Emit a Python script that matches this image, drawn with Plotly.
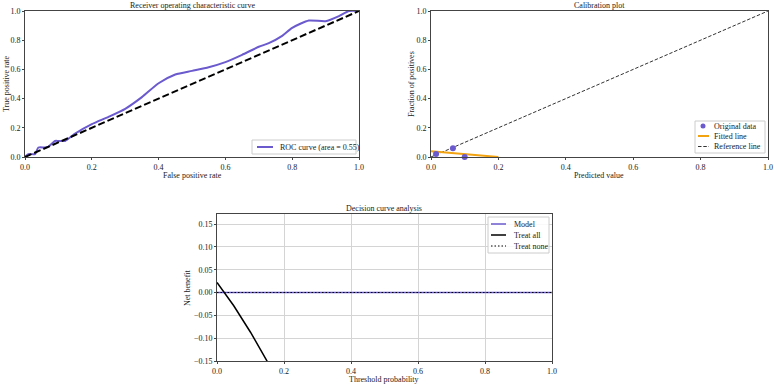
import plotly.graph_objects as go

# ROC data
roc_fpr = [0.0, 0.01, 0.03, 0.04, 0.06, 0.07, 0.09, 0.10, 0.12, 0.15, 0.20, 0.25, 0.30, 0.35, 0.40, 0.45, 0.50, 0.55, 0.60, 0.65, 0.70, 0.73, 0.77, 0.80, 0.85, 0.90, 0.94, 0.97, 1.0]
roc_tpr = [0.0, 0.02, 0.02, 0.065, 0.065, 0.07, 0.11, 0.11, 0.11, 0.16, 0.225, 0.275, 0.33, 0.41, 0.505, 0.565, 0.59, 0.615, 0.65, 0.70, 0.755, 0.78, 0.83, 0.885, 0.935, 0.93, 0.965, 1.0, 1.0]
roc_label = "ROC curve (area = 0.55)"

# Calibration data
cal_pred = [0.015, 0.065, 0.10]
cal_frac = [0.02, 0.06, 0.0]
fit_x = [0.0, 0.2]
fit_y = [0.04, 0.0]
cal_labels = ["Original data", "Fitted line", "Reference line"]

# Decision curve data
thresholds = [0.0, 0.05, 0.10, 0.15]
treat_all = [0.022, -0.029, -0.087, -0.151]
model_x = [0.0, 1.0]
model_nb = [0.0, 0.0]
none_nb = [0.0, 0.0]
dca_labels = ["Model", "Treat all", "Treat none"]

tick01 = [0, 0.2, 0.4, 0.6, 0.8, 1.0]
dca_ticks = [-0.15, -0.10, -0.05, 0.0, 0.05, 0.10, 0.15]
dca_ticktext = ["\u22120.15", "\u22120.10", "\u22120.05", "0.00", "0.05", "0.10", "0.15"]

PURPLE = "#6A5ACD"
ORANGE = "#F2A30F"
FONT = "Liberation Serif"
W, H = 774, 384
DASH_THICK = "7px,3px"
DASH_THIN = "3.5px,1.8px"
DOTTED = "1.5px,2px"


def px(x):
    return x / W


def py(y):
    return 1 - y / H


fig = go.Figure()

# ROC
fig.add_trace(go.Scatter(x=roc_fpr, y=roc_tpr, mode="lines",
                         line=dict(color=PURPLE, width=2, shape="spline", smoothing=0.6),
                         name=roc_label, xaxis="x", yaxis="y"))
fig.add_trace(go.Scatter(x=[0, 1], y=[0, 1], mode="lines", line=dict(color="black", width=2, dash=DASH_THICK),
                         xaxis="x", yaxis="y"))

# Calibration
fig.add_trace(go.Scatter(x=[0, 1], y=[0, 1], mode="lines", line=dict(color="#333333", width=1, dash=DASH_THIN),
                         name=cal_labels[2], xaxis="x2", yaxis="y2"))
fig.add_trace(go.Scatter(x=fit_x, y=fit_y, mode="lines", line=dict(color=ORANGE, width=2),
                         name=cal_labels[1], xaxis="x2", yaxis="y2"))
fig.add_trace(go.Scatter(x=cal_pred, y=cal_frac, mode="markers", marker=dict(color=PURPLE, size=6),
                         name=cal_labels[0], xaxis="x2", yaxis="y2", cliponaxis=False))

# DCA
fig.add_trace(go.Scatter(x=model_x, y=model_nb, mode="lines", line=dict(color=PURPLE, width=1.5),
                         name=dca_labels[0], xaxis="x3", yaxis="y3"))
fig.add_trace(go.Scatter(x=thresholds, y=treat_all, mode="lines", line=dict(color="black", width=1.5),
                         name=dca_labels[1], xaxis="x3", yaxis="y3"))
fig.add_trace(go.Scatter(x=model_x, y=none_nb, mode="lines", line=dict(color="black", width=1.2, dash=DOTTED),
                         name=dca_labels[2], xaxis="x3", yaxis="y3"))

tickfont = dict(family=FONT, size=8, color="#222")
axis_common = dict(showline=True, linecolor="#444", linewidth=1, mirror=True, ticks="outside", ticklen=2,
                   tickcolor="#444", tickfont=tickfont, zeroline=False, showgrid=False,
                   tickformat=".1f", automargin=False, fixedrange=True)

fig.update_layout(
    width=W, height=H, margin=dict(l=0, r=0, t=0, b=0, autoexpand=False),
    paper_bgcolor="white", plot_bgcolor="white",
    font=dict(family=FONT, size=8, color="#222"),
    showlegend=False,
    xaxis=dict(axis_common, domain=[px(25), px(359)], range=[0, 1], tickvals=tick01, anchor="y"),
    yaxis=dict(axis_common, domain=[py(157), py(11)], range=[0, 1], tickvals=tick01, anchor="x"),
    xaxis2=dict(axis_common, domain=[px(431), px(768)], range=[0, 1], tickvals=tick01, anchor="y2"),
    yaxis2=dict(axis_common, domain=[py(157), py(11)], range=[0, 1], tickvals=tick01, anchor="x2"),
    xaxis3=dict(axis_common, domain=[px(217), px(552)], range=[0, 1], tickvals=tick01, anchor="y3",
                showgrid=True, gridcolor="#d4d4d4", gridwidth=1),
    yaxis3=dict(axis_common, domain=[py(361), py(214)], range=[-0.15, 0.172],
                tickvals=dca_ticks, ticktext=dca_ticktext,
                anchor="x3", showgrid=True, gridcolor="#d4d4d4", gridwidth=1),
)

ann = []
shapes = []


def text(x, y, s, angle=0, size=8, anchor="center"):
    ann.append(dict(x=px(x), y=py(y), xref="paper", yref="paper", text=s, showarrow=False,
                    textangle=angle, font=dict(family=FONT, size=size, color="#222"),
                    xanchor=anchor, yanchor="middle"))


def box(x0, y0, x1, y1):
    shapes.append(dict(type="rect", xref="paper", yref="paper", x0=px(x0), x1=px(x1), y0=py(y1), y1=py(y0),
                       line=dict(color="#cccccc", width=1), fillcolor="rgba(255,255,255,0.85)", layer="above"))


def gline(x0, x1, y, color, width, dash="solid"):
    shapes.append(dict(type="line", xref="paper", yref="paper", x0=px(x0), x1=px(x1), y0=py(y), y1=py(y),
                       line=dict(color=color, width=width, dash=dash), layer="above"))


def gdot(x, y, color):
    r = 2.5
    shapes.append(dict(type="circle", xref="paper", yref="paper", x0=px(x - r), x1=px(x + r),
                       y0=py(y + r), y1=py(y - r), line=dict(color=color, width=0), fillcolor=color,
                       layer="above"))


# titles and axis labels
text(192, 5, "Receiver operating characteristic curve")
text(599, 5, "Calibration plot")
text(384, 208, "Decision curve analysis")
text(192, 175, "False positive rate")
text(599, 175, "Predicted value")
text(384, 379, "Threshold probability")
text(6, 84, "True positive rate", angle=-90)
text(411, 84, "Fraction of positives", angle=-90)
text(187, 288, "Net benefit", angle=-90)

# ROC legend
box(252, 140, 356, 154)
gline(257, 273, 147, PURPLE, 2)
text(278, 147, roc_label, anchor="left")

# Calibration legend
box(695, 121, 765, 153)
gdot(703, 126, PURPLE)
text(712, 126, cal_labels[0], anchor="left")
gline(698, 709, 136, ORANGE, 2)
text(712, 136, cal_labels[1], anchor="left")
gline(698, 709, 146.5, "#333333", 1, DASH_THIN)
text(712, 146.5, cal_labels[2], anchor="left")

# DCA legend
box(488, 217, 549, 253)
gline(491, 506, 224, PURPLE, 1.5)
text(512, 224, dca_labels[0], anchor="left")
gline(491, 506, 235, "black", 1.5)
text(512, 235, dca_labels[1], anchor="left")
gline(491, 506, 246, "black", 1.2, DOTTED)
text(512, 246, dca_labels[2], anchor="left")

fig.update_layout(annotations=ann, shapes=shapes)

fig.write_html("out.html", config={"displayModeBar": False},
               post_script="document.body.style.margin='0';document.body.style.overflow='hidden';")
